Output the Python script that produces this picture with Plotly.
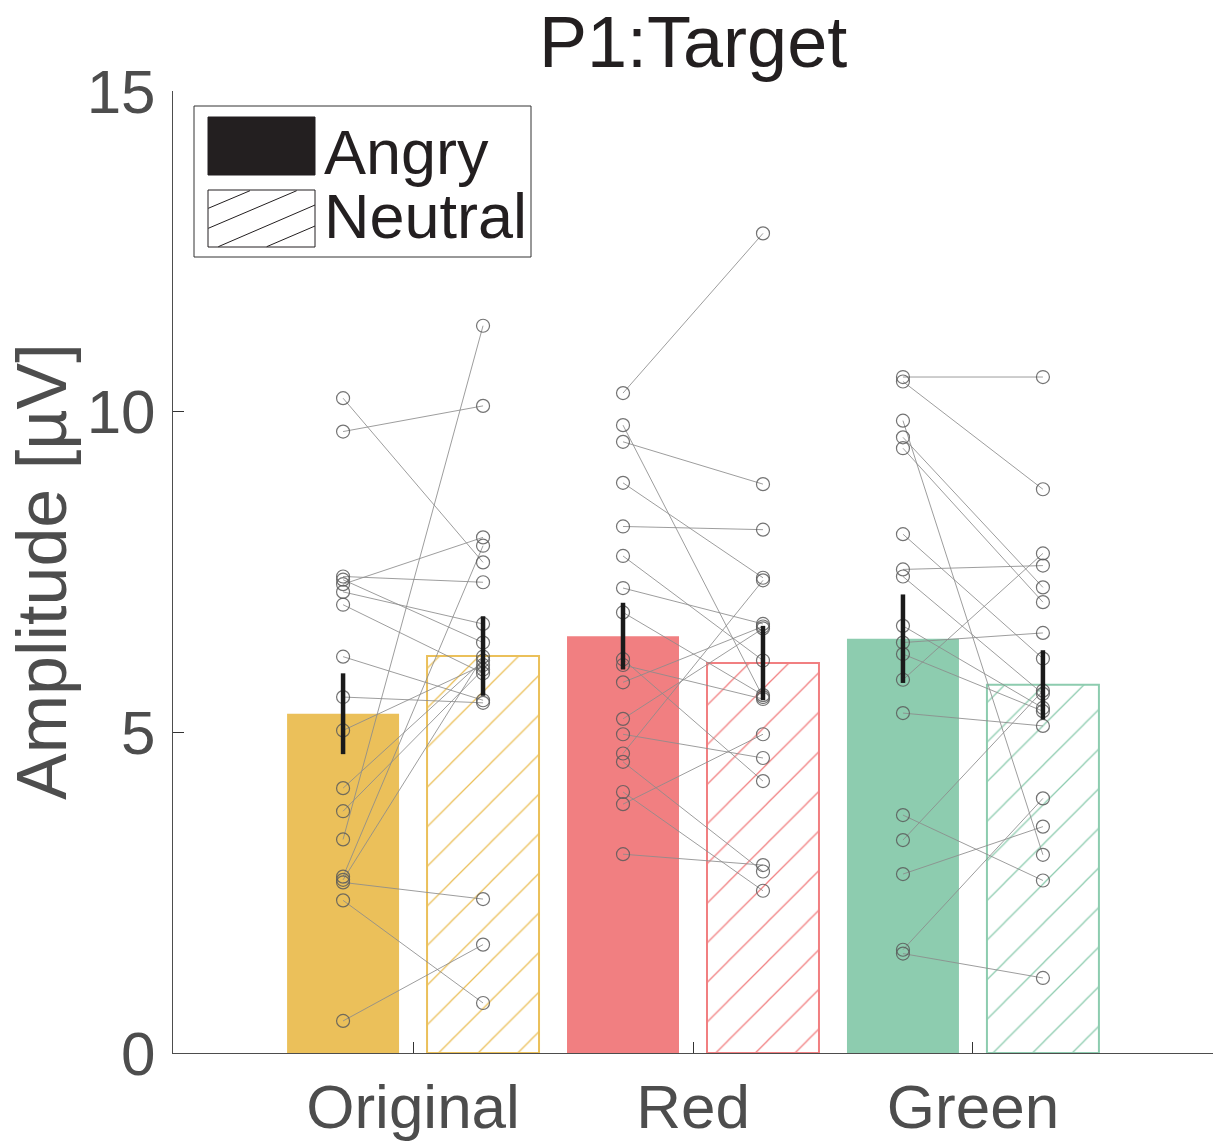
import plotly.graph_objects as go

# ---------------- data ----------------
categories = ["Original", "Red", "Green"]
conditions = ["Angry", "Neutral"]
colors = ["#EBC05A", "#F17F81", "#8DCCAF"]

angry_means = [5.29, 6.50, 6.46]
neutral_means = [6.19, 6.08, 5.74]
angry_sem = [0.63, 0.52, 0.69]
neutral_sem = [0.62, 0.58, 0.54]

original_angry = [10.21, 9.69, 7.43, 7.38, 7.31, 7.19, 6.99, 6.18, 5.55, 5.03, 4.13, 3.77, 3.33, 2.75, 2.70, 2.66, 2.38, 0.50]
original_neutral = [7.65, 10.09, 7.34, 6.40, 8.04, 6.69, 5.92, 5.50, 5.46, 6.05, 6.12, 5.98, 11.34, 7.91, 6.18, 2.40, 0.78, 1.69]
red_angry = [10.29, 9.79, 9.53, 8.89, 8.21, 7.75, 7.25, 6.87, 6.14, 6.05, 5.78, 5.21, 4.97, 4.67, 4.54, 4.07, 3.88, 3.10]
red_neutral = [12.78, 5.55, 8.87, 7.41, 8.16, 6.12, 6.69, 5.58, 4.24, 5.52, 6.65, 6.62, 4.60, 7.37, 2.83, 2.53, 4.97, 2.93]
green_angry = [10.54, 10.47, 9.86, 9.60, 9.43, 8.09, 7.54, 7.43, 6.66, 6.40, 6.22, 5.82, 5.30, 3.71, 3.32, 2.79, 1.61, 1.55]
green_neutral = [10.54, 8.79, 3.09, 7.26, 7.03, 6.15, 7.60, 5.60, 5.38, 6.55, 5.33, 7.79, 5.10, 2.69, 5.65, 3.53, 3.97, 1.17]

subject_angry = [original_angry, red_angry, green_angry]
subject_neutral = [original_neutral, red_neutral, green_neutral]

y_ticks = [0, 5, 10, 15]
title_text = "P1:Target"
y_label = "Amplitude [µV]"

# ---------------- layout constants ----------------
W, H = 1213, 1142
L, R, T, B = 173, 0, 91, 89
OFF = 0.25
BW = 0.4
FONT = "Liberation Sans, Arial, Helvetica, sans-serif"
TICK_COLOR = "#4D4D4D"

def pxx(x):
    return (x - L) / (W - L - R)

def pxy(y):
    return (H - B - y) / (H - T - B)

pos = [i + 1 for i in range(len(categories))]
xa = [p - OFF for p in pos]
xn = [p + OFF for p in pos]

fig = go.Figure()

# bars
fig.add_trace(go.Bar(
    x=xa, y=angry_means, width=BW,
    marker=dict(color=colors, line=dict(width=0)),
    showlegend=False, hoverinfo="skip"))
fig.add_trace(go.Bar(
    x=xn, y=neutral_means, width=BW,
    marker=dict(color="white", line=dict(color=colors, width=2),
                pattern=dict(shape="/", fgcolor=colors, bgcolor="white",
                             size=28, solidity=0.045, fgopacity=1,
                             fillmode="overlay")),
    showlegend=False, hoverinfo="skip"))

# subject lines
lx, ly = [], []
for i in range(len(categories)):
    for a, n in zip(subject_angry[i], subject_neutral[i]):
        lx += [xa[i], xn[i], None]
        ly += [a, n, None]
fig.add_trace(go.Scatter(x=lx, y=ly, mode="lines",
                         line=dict(color="rgba(140,140,140,0.85)", width=1),
                         showlegend=False, hoverinfo="skip"))

# subject circles
cx, cy = [], []
for i in range(len(categories)):
    cx += [xa[i]] * len(subject_angry[i]) + [xn[i]] * len(subject_neutral[i])
    cy += subject_angry[i] + subject_neutral[i]
fig.add_trace(go.Scatter(x=cx, y=cy, mode="markers",
                         marker=dict(symbol="circle-open", size=13,
                                     color="rgba(90,90,90,0.85)",
                                     line=dict(width=1.2)),
                         showlegend=False, hoverinfo="skip"))

# error bars
fig.add_trace(go.Scatter(
    x=xa + xn, y=angry_means + neutral_means, mode="markers",
    marker=dict(size=0.1, color="rgba(0,0,0,0)"),
    error_y=dict(type="data", array=angry_sem + neutral_sem, visible=True,
                 thickness=4.5, width=0, color="#1A1A1A"),
    showlegend=False, hoverinfo="skip"))

shapes = []
annotations = []

# legend box (custom)
shapes.append(dict(type="rect", xref="paper", yref="paper",
                   x0=pxx(194), x1=pxx(531), y0=pxy(106), y1=pxy(257),
                   line=dict(color="#333333", width=1), fillcolor="white", layer="above"))
shapes.append(dict(type="rect", xref="paper", yref="paper",
                   x0=pxx(208), x1=pxx(315), y0=pxy(117), y1=pxy(175),
                   line=dict(color="#231F20", width=1), fillcolor="#231F20", layer="above"))
shapes.append(dict(type="rect", xref="paper", yref="paper",
                   x0=pxx(208), x1=pxx(315), y0=pxy(190), y1=pxy(247),
                   line=dict(color="#231F20", width=1), fillcolor="white", layer="above"))
for (x0, y0, x1, y1) in [(208.3, 208.3, 250, 190.7), (208.3, 228.3, 296.7, 190.7),
                         (218.3, 246.7, 315, 205), (266.7, 246.7, 315, 226)]:
    shapes.append(dict(type="line", xref="paper", yref="paper",
                       x0=pxx(x0), y0=pxy(y0), x1=pxx(x1), y1=pxy(y1),
                       line=dict(color="#231F20", width=1), layer="above"))
for label, yc in zip(conditions, [152, 216]):
    annotations.append(dict(text=label, xref="paper", yref="paper",
                            x=pxx(322), y=pxy(yc), xanchor="left", yanchor="middle",
                            showarrow=False, font=dict(family=FONT, size=63, color="#231F20")))

# title
annotations.append(dict(text=title_text, xref="paper", yref="paper",
                        x=0.5, y=pxy(42), xanchor="center", yanchor="middle",
                        showarrow=False, font=dict(family=FONT, size=72, color="#231F20")))
# y label
annotations.append(dict(text=y_label, xref="paper", yref="paper",
                        x=pxx(42), y=0.5, xanchor="center", yanchor="middle",
                        textangle=-90, showarrow=False,
                        font=dict(family=FONT, size=70, color=TICK_COLOR)))

fig.update_layout(
    width=W, height=H,
    margin=dict(l=L, r=R, t=T, b=B, pad=0, autoexpand=False),
    paper_bgcolor="white", plot_bgcolor="white",
    barmode="overlay",
    shapes=shapes, annotations=annotations,
    font=dict(family=FONT, color=TICK_COLOR),
    xaxis=dict(range=[0.1425, 3.8575], tickvals=pos, ticktext=categories,
               showline=True, linecolor="#4D4D4D", linewidth=1,
               ticks="inside", ticklen=11, tickcolor="#333333",
               showgrid=False, zeroline=False, automargin=False,
               tickfont=dict(family=FONT, size=62, color=TICK_COLOR),
               ticklabelstandoff=0),
    yaxis=dict(range=[0, 15], tickvals=y_ticks,
               showline=True, linecolor="#4D4D4D", linewidth=1,
               ticks="inside", ticklen=11, tickcolor="#333333",
               showgrid=False, zeroline=False, automargin=False,
               tickfont=dict(family=FONT, size=62, color=TICK_COLOR),
               ticklabelstandoff=4),
)

fig.write_html("out.html")
